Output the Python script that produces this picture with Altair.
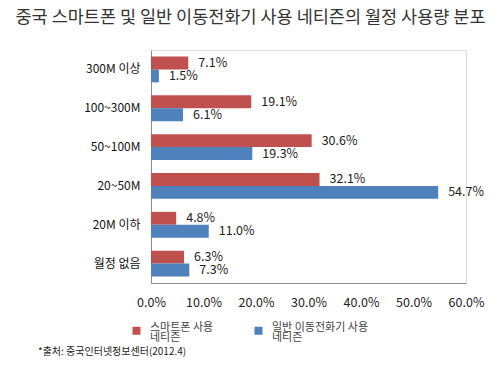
import altair as alt
import pandas as pd

categories = ["300M 이상", "100~300M", "50~100M", "20~50M", "20M 이하", "월정 없음"]
series = ["스마트폰 사용|네티즌", "일반 이동전화기 사용|네티즌"]
smartphone = [7.1, 19.1, 30.6, 32.1, 4.8, 6.3]
feature_phone = [1.5, 6.1, 19.3, 54.7, 11.0, 7.3]
colors = ["#C0504D", "#4F81BD"]
x_ticks = [0.0, 0.1, 0.2, 0.3, 0.4, 0.5, 0.6]
title_text = "중국 스마트폰 및 일반 이동전화기 사용 네티즌의 월정 사용량 분포"
source_text = ["*출처: 중국인터넷정보센터(2012.4)"]

FONT = "Noto Sans CJK KR"

rows = []
for i, c in enumerate(categories):
    rows.append({"cat": c, "series": series[0], "value": round(smartphone[i] / 100, 4)})
    rows.append({"cat": c, "series": series[1], "value": round(feature_phone[i] / 100, 4)})
df = pd.DataFrame(rows)

base = alt.Chart(df).encode(
    y=alt.Y(
        "cat:N",
        sort=categories,
        scale=alt.Scale(paddingInner=0.335, paddingOuter=0.1675),
        axis=alt.Axis(
            title=None, ticks=False, labelFontSize=12, labelColor="#111111",
            labelPadding=11, domainColor="#8c8c8c", labelFont=FONT,
        ),
    ),
    yOffset=alt.YOffset("series:N", sort=series),
    x=alt.X(
        "value:Q",
        scale=alt.Scale(domain=[0, 0.6]),
        axis=alt.Axis(
            title=None, values=x_ticks, format=".1%", grid=False, ticks=False,
            labelFontSize=12.5, labelColor="#222222", labelPadding=13,
            domainColor="#8c8c8c", labelFont=FONT, labelFlush=False,
        ),
    ),
)

bars = base.mark_bar().encode(
    color=alt.Color(
        "series:N",
        sort=series,
        scale=alt.Scale(domain=series, range=colors),
        legend=alt.Legend(
            title=None, orient="none", legendX=-20, legendY=275,
            direction="horizontal", columns=2, gridAlign="all",
            symbolType="square", symbolSize=64, symbolStrokeWidth=0,
            labelFontSize=11, labelColor="#444444", labelFont=FONT,
            labelBaseline="alphabetic",
            labelExpr="split(datum.label, '|')", columnPadding=6,
            labelOffset=8, labelLimit=200,
        ),
    )
)

labels = base.mark_text(
    align="left", baseline="middle", dx=10, fontSize=12.5, color="#222222", font=FONT
).encode(text=alt.Text("value:Q", format=".1%"))

source = alt.Chart(pd.DataFrame({"t": source_text})).mark_text(
    align="left", baseline="middle", fontSize=10, color="#222222", font=FONT
).encode(x=alt.value(-113), y=alt.value(302), text="t:N")

chart = alt.layer(bars, labels, source).properties(
    width=315,
    height=233,
    title=alt.TitleParams(
        title_text, anchor="middle", frame="group", dx=-58, offset=24,
        fontSize=17.5, fontWeight="normal", color="#333333", font=FONT,
    ),
    autosize=alt.AutoSizeParams(type="none"),
    padding={"left": 143, "top": 42, "right": 26, "bottom": 83},
).configure_view(stroke=None).configure(
    font=FONT, background="white", style={"guide-label": {"lineHeight": 10}}
)

chart.save("out.html", embed_options={"renderer": "svg", "actions": False})
